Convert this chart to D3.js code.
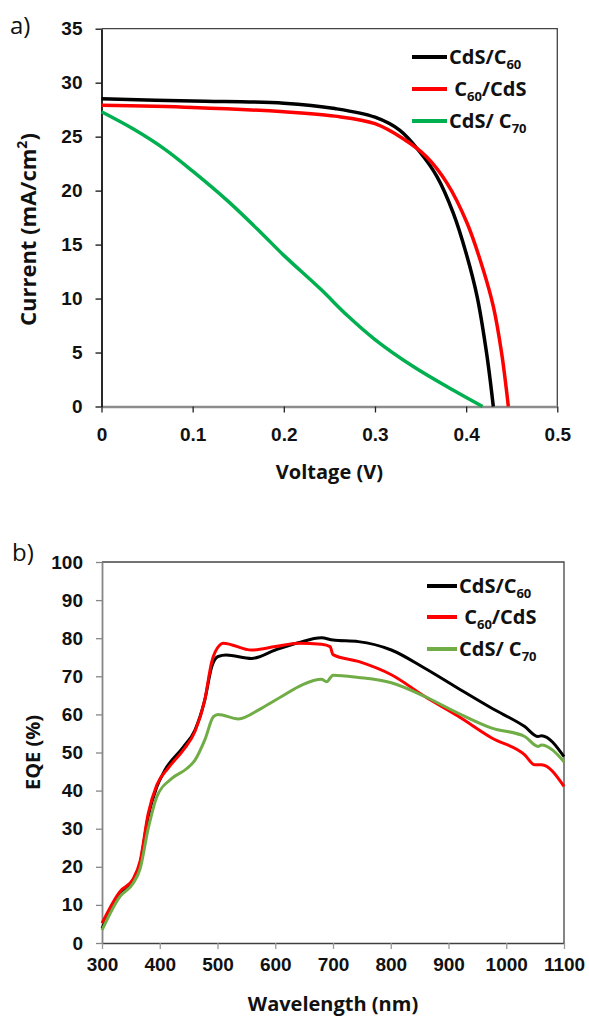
<!DOCTYPE html>
<html>
<head>
<meta charset="utf-8">
<script src="https://cdn.jsdelivr.net/npm/d3@7"></script>
<style>
  body { margin: 0; background: #fff; }
  svg { display: block; font-family: "Open Sans", "DejaVu Sans", sans-serif; }
  .tick text { font-size: 19px; font-weight: 700; fill: #111; }
  .title { font-size: 20px; font-weight: 700; fill: #111; }
  .legend text { font-size: 20px; font-weight: 700; fill: #111; }
</style>
</head>
<body>
<svg id="chart" width="589" height="1018"></svg>
<script>
// ---- panel a) J-V curves ----
var jvNames = ["CdS/C_60", " C_60/CdS", "CdS/ C_70"];
var jvColors = ["#000000", "#ff0000", "#00b050"];

var cds_c60_V = [0, 0.1, 0.2, 0.256, 0.3, 0.327, 0.349, 0.368, 0.386, 0.400, 0.412, 0.4225, 0.4298];
var cds_c60_I = [28.5, 28.3, 28.1, 27.6, 26.8, 25.6, 23.6, 21.3, 17.9, 14.2, 10.2, 4.9, 0];

var c60_cds_V = [0, 0.1, 0.2, 0.256, 0.3, 0.331, 0.357, 0.379, 0.401, 0.419, 0.430, 0.439, 0.4463];
var c60_cds_I = [27.9, 27.7, 27.3, 26.9, 26.2, 24.8, 23.1, 20.7, 17.0, 12.6, 9.2, 4.9, 0];

var cds_c70_V = [0, 0.035, 0.070, 0.1, 0.139, 0.175, 0.2, 0.24, 0.27, 0.3, 0.342, 0.386, 0.418];
var cds_c70_I = [27.3, 25.7, 23.8, 21.8, 19.0, 16.1, 14.0, 10.9, 8.4, 6.2, 3.7, 1.5, 0];

var jvTicksX = [0, 0.1, 0.2, 0.3, 0.4, 0.5];
var jvTicksY = [0, 5, 10, 15, 20, 25, 30, 35];

// ---- panel b) EQE spectra ----
var eqeNames = ["CdS/C_60", " C_60/CdS", "CdS/ C_70"];
var eqeColors = ["#000000", "#ff0000", "#70ad47"];

var eqe_c60_W = [300, 331, 354, 366, 380, 395, 409, 441, 461, 478, 490, 501, 515, 559, 600, 640, 680, 700, 744, 801, 859, 917, 975, 1032, 1055, 1061, 1100];
var eqe_c60_E = [3.8, 13.0, 16.5, 20.9, 33.2, 41.0, 45.4, 51.5, 55.9, 63.8, 72.5, 75.2, 75.6, 74.7, 76.9, 78.8, 80.1, 79.5, 79.1, 76.9, 72.1, 66.8, 61.6, 56.8, 54.2, 54.4, 48.9];

var eqe_c60r_W = [300, 331, 354, 366, 380, 395, 415, 441, 461, 478, 490, 504, 510, 559, 600, 640, 680, 695, 700, 744, 801, 859, 917, 975, 1032, 1049, 1061, 1100];
var eqe_c60r_E = [5.2, 13.5, 16.8, 21.5, 34.0, 41.5, 46.0, 50.7, 55.5, 63.8, 73.8, 78.2, 78.7, 76.9, 77.8, 78.7, 78.4, 77.8, 75.7, 73.9, 70.4, 64.7, 59.5, 53.8, 49.4, 46.8, 46.8, 41.1];

var eqe_c70_W = [300, 331, 354, 366, 380, 395, 421, 447, 461, 478, 493, 501, 536, 576, 611, 646, 680, 689, 700, 744, 801, 859, 917, 975, 1032, 1055, 1061, 1100];
var eqe_c70_E = [3.4, 12.2, 15.7, 19.5, 30.0, 38.4, 43.2, 45.8, 48.0, 53.3, 59.4, 60.0, 58.8, 61.6, 64.7, 67.7, 69.2, 68.6, 70.3, 69.7, 68.3, 64.7, 60.3, 56.4, 54.2, 51.6, 52.0, 47.6];

var eqeTicksX = [300, 400, 500, 600, 700, 800, 900, 1000, 1100];
var eqeTicksY = [0, 10, 20, 30, 40, 50, 60, 70, 80, 90, 100];

function zip(xs, ys) {
  return xs.map(function(x, i) { return [x, ys[i]]; });
}

var svg = d3.select("#chart");

// legend text with "_NN" as subscript
function legendText(sel, label) {
  var parts = label.split("_");
  sel.append("tspan").text(parts[0]);
  if (parts.length > 1) {
    var m = parts[1].match(/^(\d+)(.*)$/);
    sel.append("tspan").attr("dy", 5).style("font-size", "13px").text(m[1]);
    if (m[2]) sel.append("tspan").attr("dy", -5).text(m[2]);
  }
}

function panel(opt) {
  var x = d3.scaleLinear().domain(opt.xDomain).range([opt.left, opt.right]);
  var y = d3.scaleLinear().domain(opt.yDomain).range([opt.bottom, opt.top]);
  var g = svg.append("g");

  // frame top + right
  g.append("path")
    .attr("d", "M" + opt.left + "," + opt.top + "H" + opt.right + "V" + opt.bottom)
    .attr("fill", "none").attr("stroke", "#444").attr("stroke-width", 1.3);

  var xa = g.append("g")
    .attr("transform", "translate(0," + opt.bottom + ")")
    .call(d3.axisBottom(x).tickValues(opt.xTicks).tickSize(6).tickSizeOuter(0)
      .tickPadding(opt.xPad).tickFormat(opt.xFormat));
  xa.select(".domain").attr("stroke", opt.xAxisColor).attr("stroke-width", opt.xAxisWidth);
  xa.selectAll(".tick line").attr("stroke", opt.xTickColor).attr("stroke-width", 1.3);

  var ya = g.append("g")
    .attr("transform", "translate(" + opt.left + ",0)")
    .call(d3.axisLeft(y).tickValues(opt.yTicks).tickSize(6).tickSizeOuter(0).tickPadding(13));
  ya.select(".domain").attr("stroke", opt.yAxisColor).attr("stroke-width", 1.8);
  ya.selectAll(".tick line").attr("stroke", opt.yAxisColor).attr("stroke-width", 1.3);

  var line = d3.line()
    .x(function(d) { return x(d[0]); })
    .y(function(d) { return y(d[1]); })
    .curve(opt.curve);

  opt.series.forEach(function(s, i) {
    g.append("path")
      .datum(s)
      .attr("fill", "none")
      .attr("stroke", opt.colors[i])
      .attr("stroke-width", opt.lineWidth)
      .attr("stroke-linejoin", "round")
      .attr("d", line);
  });

  // legend
  var lg = g.append("g").attr("class", "legend");
  opt.names.forEach(function(n, i) {
    var ly = opt.legY[i];
    lg.append("line")
      .attr("x1", opt.legX).attr("x2", opt.legX + opt.legLen)
      .attr("y1", ly).attr("y2", ly)
      .attr("stroke", opt.colors[i]).attr("stroke-width", 4);
    var t = lg.append("text")
      .attr("x", opt.legX + opt.legLen + 2)
      .attr("y", ly + 7)
      .attr("xml:space", "preserve");
    legendText(t, n);
  });

  // axis titles
  g.append("text").attr("class", "title")
    .attr("x", (opt.left + opt.right) / 2).attr("y", opt.xTitleY)
    .attr("text-anchor", "middle").text(opt.xTitle);
  var yt = g.append("text").attr("class", "title")
    .style("font-size", opt.yTitleSize)
    .attr("transform", "translate(" + opt.yTitleX + "," + ((opt.top + opt.bottom) / 2 + opt.yTitleShift) + ") rotate(-90)")
    .attr("text-anchor", "middle");
  opt.yTitle(yt);

  g.append("text")
    .attr("x", opt.tagX).attr("y", opt.tagY)
    .style("font-size", "24px").style("fill", "#111")
    .text(opt.tag);
}

panel({
  xDomain: [0, 0.5], yDomain: [0, 35],
  left: 101.5, right: 557.3, top: 28.7, bottom: 406.5,
  xTicks: jvTicksX, yTicks: jvTicksY, xPad: 15,
  xFormat: function(d) { return d === 0 ? "0" : d3.format(".1f")(d); },
  xAxisColor: "#8c8c8c", xAxisWidth: 2.5, xTickColor: "#222", yAxisColor: "#111",
  series: [zip(cds_c60_V, cds_c60_I), zip(c60_cds_V, c60_cds_I), zip(cds_c70_V, cds_c70_I)],
  colors: jvColors, names: jvNames, lineWidth: 3.5,
  curve: d3.curveCatmullRom.alpha(0.5),
  legX: 412, legLen: 35, legY: [57, 89, 121],
  xTitle: "Voltage (V)", xTitleY: 479,
  yTitleX: 36, yTitleShift: 12, yTitleSize: "22px",
  yTitle: function(t) {
    t.append("tspan").text("Current (mA/cm");
    t.append("tspan").attr("dy", -9).style("font-size", "14px").text("2");
    t.append("tspan").attr("dy", 9).text(")");
  },
  tag: "a)", tagX: 10, tagY: 34
});

panel({
  xDomain: [300, 1100], yDomain: [0, 100],
  left: 102, right: 564, top: 562, bottom: 943,
  xTicks: eqeTicksX, yTicks: eqeTicksY, xPad: 9,
  xFormat: d3.format("d"),
  xAxisColor: "#404040", xAxisWidth: 1.5, xTickColor: "#999", yAxisColor: "#868686",
  series: [zip(eqe_c60_W, eqe_c60_E), zip(eqe_c60r_W, eqe_c60r_E), zip(eqe_c70_W, eqe_c70_E)],
  colors: eqeColors, names: eqeNames, lineWidth: 3,
  curve: d3.curveMonotoneX,
  legX: 427, legLen: 30, legY: [586, 617, 649],
  xTitle: "Wavelength (nm)", xTitleY: 1011,
  yTitleX: 40, yTitleShift: 0, yTitleSize: "20px",
  yTitle: function(t) { t.text("EQE (%)"); },
  tag: "b)", tagX: 12, tagY: 561
});
</script>
</body>
</html>
